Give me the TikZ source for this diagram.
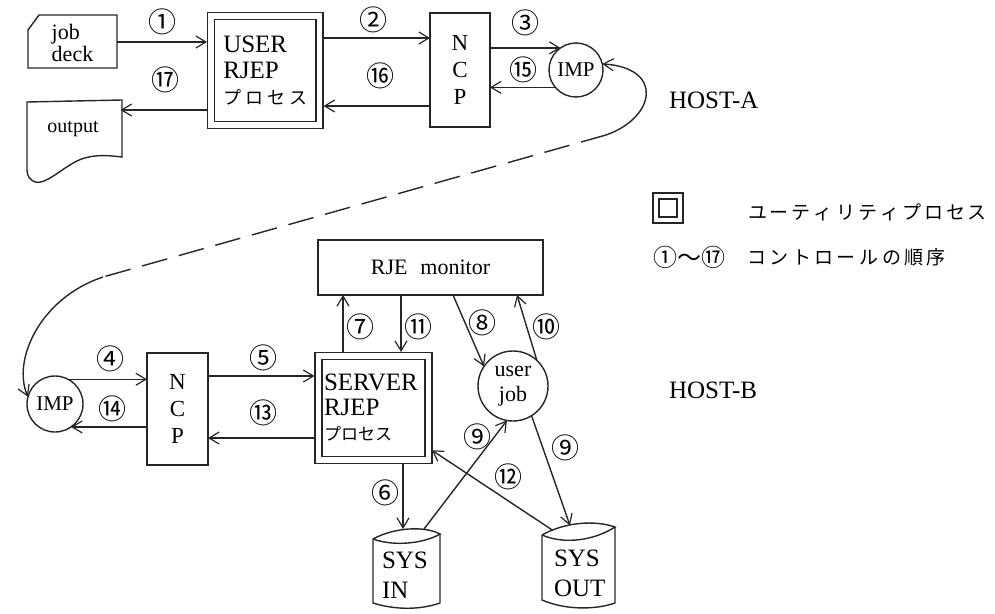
\documentclass[tikz,border=0pt]{standalone}
\usepackage{fontspec}
\setmainfont{Liberation Serif}
\newfontfamily\cjk{Noto Sans CJK JP}
\usetikzlibrary{arrows.meta,calc}
\makeatletter
\newcommand\spacedtext[2]{\def\spacedtext@gap{#1}\spacedtext@loop#2\relax}
\def\spacedtext@loop#1{\ifx\relax#1\else#1\hskip\spacedtext@gap\relax\expandafter\spacedtext@loop\fi}
\makeatother
\begin{document}
\begin{tikzpicture}[x=1pt,y=-1pt,
 every node/.style={inner sep=0pt, outer sep=0pt},
 ln/.style={line width=1.4pt, draw=black!85},
 arr/.style={ln, -{Straight Barb[length=10pt,width=12pt,line width=1.2pt]}},
 sbox/.style={ln, rectangle},
 dbox/.style={draw=black!85, line width=1.3pt, double, double distance=5.5pt, rectangle},
 ring/.style={ln, circle},
 zone/.style={rectangle},
 num/.style={font=\cjk\fontsize{28}{28}\selectfont},
 jtxt/.style={font=\cjk\fontsize{19}{19}\selectfont},
]
\useasboundingbox (0,0) rectangle (995,613);

% ---------- HOST-A ----------
\node[zone, minimum width=89pt, minimum height=53pt, align=left, font=\fontsize{22}{22}\selectfont] (jobdeck) at (72.5,43) {job\\deck};
\draw[ln] (28,30) -- (39,15) -- (117,15) -- (117,68) -- (28,68) -- cycle;

\node[zone, minimum width=95pt, minimum height=57pt, font=\fontsize{20}{20}\selectfont] (output) at (73,128.5) {output};
\draw[ln] (27,102) -- (122,100) -- (122,157)
  .. controls (105,155) and (90,154) .. (75,162)
  .. controls (60,170) and (45,185) .. (35,182)
  .. controls (30,180) and (27,176) .. (27,170) -- cycle;

\node[dbox, minimum width=108.5pt, minimum height=109pt, text width=84pt, align=left, font=\fontsize{25}{26}\selectfont] (user) at (265.25,70.5)
  {USER\\RJEP\\\mbox{\cjk\fontsize{18}{18}\selectfont\spacedtext{4pt}{プロセス}}};

\node[sbox, minimum width=60pt, minimum height=114pt, align=center, font=\fontsize{23}{27}\selectfont] (ncpa) at (460,70) {N\\C\\P};
\node[ring, minimum size=54pt, font=\fontsize{21}{21}\selectfont] (impa) at (576,70) {IMP};

\node[anchor=west, font=\fontsize{25}{25}\selectfont] (hosta) at (669,100) {HOST-A};

% ---------- HOST-B ----------
\node[sbox, minimum width=225pt, minimum height=55pt, font=\fontsize{22}{22}\selectfont] (rje) at (430.5,267.5) {RJE\hspace{13pt}monitor};

\node[dbox, minimum width=110pt, minimum height=104pt, text width=99pt, align=left, font=\fontsize{25}{25}\selectfont] (server) at (373.5,408)
  {SERVER\\RJEP\\\mbox{\cjk\fontsize{17}{17}\selectfont プロセス}};

\node[sbox, minimum width=61pt, minimum height=112pt, align=center, font=\fontsize{23}{27}\selectfont] (ncpb) at (177.5,409) {N\\C\\P};
\node[ring, minimum size=56pt, font=\fontsize{21}{21}\selectfont] (impb) at (55,404) {IMP};
\node[ring, minimum size=70pt, align=center, font=\fontsize{22}{25}\selectfont] (ujob) at (513,386) {user\\job};

\node[zone, minimum width=67pt, minimum height=78pt] (sysin) at (406.5,568) {};
\node[anchor=west, align=left, font=\fontsize{25}{30}\selectfont] (sysintext) at (382,575) {SYS\\IN};
\draw[ln] (373,539) .. controls (395,527) and (425,526) .. (440,534)
  .. controls (425,543) and (395,547) .. (373,539);
\draw[ln] (373,539) -- (373,603) .. controls (395,610) and (420,610) .. (440,603) -- (440,534);

\node[zone, minimum width=73pt, minimum height=83pt] (sysout) at (578.5,567) {};
\node[anchor=west, align=left, font=\fontsize{25}{30}\selectfont] (sysouttext) at (554,573) {SYS\\OUT};
\draw[ln] (542,535) .. controls (565,522) and (595,520) .. (615,527)
  .. controls (595,540) and (565,545) .. (542,535);
\draw[ln] (542,535) -- (542,600) .. controls (565,610) and (595,610) .. (615,603) -- (615,527);

\node[anchor=west, font=\fontsize{25}{25}\selectfont] (hostb) at (669,390) {HOST-B};

% ---------- legend ----------
\node[dbox, double distance=4.5pt, minimum width=24pt, minimum height=24pt] (legbox) at (668,208) {};
\node[anchor=west, jtxt] (legtxt1) at (748,212) {\spacedtext{3pt}{ユーティリティプロセス}};
\node[anchor=west, font=\cjk\fontsize{24}{24}\selectfont] (legnum) at (653,257) {①〜⑰};
\node[anchor=west, jtxt] (legtxt2) at (747,257) {\spacedtext{3.5pt}{コントロールの順序}};

% ---------- connectors ----------
\draw[arr, shorten >=4pt] (jobdeck.east |- 0,42) -- (user.west |- 0,42);
\draw[arr, shorten <=4pt] (user.west |- 0,110) -- (output.east |- 0,110);
\draw[arr, shorten <=4pt] (user.east |- 0,38) -- (ncpa.west |- 0,38);
\draw[arr, shorten >=4pt] (ncpa.west |- 0,106) -- (user.east |- 0,106);
\draw[arr] (ncpa.east |- impa.125) -- (impa.125);
\draw[arr] (impa.220) -- (ncpa.east |- impa.220);

\coordinate (lnka) at (606,135);
\coordinate (lnkb) at (103,277);
\draw[arr] (lnka) .. controls (655,118) and (665,68) .. (impa.13);
\draw[ln, dash pattern=on 26pt off 12pt] (lnka) -- (lnkb);
\draw[arr] (lnkb) .. controls (40,298) and (12,360) .. (impb.165);

\draw[arr] (impb.62) -- (ncpb.west |- impb.62);
\draw[arr] (ncpb.west |- impb.-55) -- (impb.-55);
\draw[arr, shorten >=4pt] (ncpb.east |- 0,376) -- (server.west |- 0,376);
\draw[arr, shorten <=4pt] (server.west |- 0,438) -- (ncpb.east |- 0,438);
\draw[arr, shorten <=4pt] (server.north -| 343,0) -- (rje.south -| 343,0);
\draw[arr, shorten >=4pt] (rje.south -| 401,0) -- (server.north -| 401,0);
\draw[arr] (rje.south -| 453,0) -- (ujob.146);
\draw[arr] (ujob.47) -- (rje.south -| 517,0);
\draw[arr, shorten <=4pt] (server.south -| 403,0) -- (sysin.north -| 403,0);
\draw[arr] (sysin.north -| 424,0) -- (ujob.-100);
\draw[arr] (ujob.-58) -- (sysout.north -| 570,0);
\draw[arr, shorten >=4pt] ($(sysout.north -| 553,0)+(0,5)$) -- (server.east |- 0,448);

% ---------- order numbers ----------
\node[num] (n1) at (162,22) {①};
\node[num] (n2) at (373,20) {②};
\node[num] (n3) at (525,23) {③};
\node[num] (n15) at (523,70) {⑮};
\node[num] (n16) at (380,76) {⑯};
\node[num] (n17) at (165,80) {⑰};
\node[num] (n4) at (110,359) {④};
\node[num] (n14) at (112,409) {⑭};
\node[num] (n5) at (263,358) {⑤};
\node[num] (n13) at (263,413) {⑬};
\node[num] (n7) at (360,327) {⑦};
\node[num] (n11) at (418,327) {⑪};
\node[num] (n8) at (482,323) {⑧};
\node[num] (n10) at (546,327) {⑩};
\node[num] (n6) at (385,493) {⑥};
\node[num] (n9a) at (477,437) {⑨};
\node[num] (n9b) at (565,448) {⑨};
\node[num] (n12) at (508,477) {⑫};
\end{tikzpicture}
\end{document}
